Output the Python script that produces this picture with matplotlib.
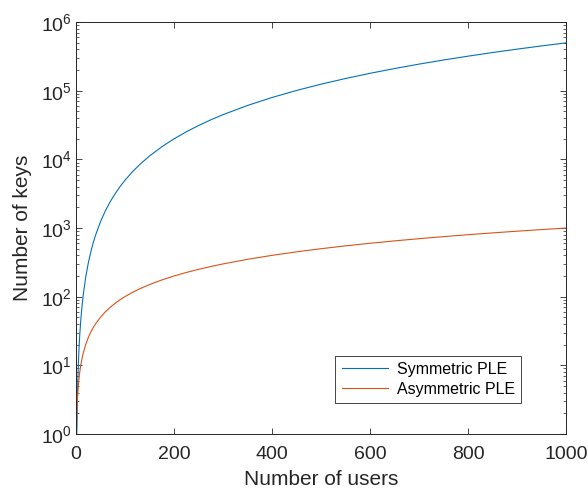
import matplotlib
matplotlib.use("Agg")
import matplotlib.pyplot as plt
from matplotlib.ticker import LogLocator, FixedLocator

plt.rcParams['font.family'] = ['Liberation Sans', 'DejaVu Sans']
plt.rcParams['mathtext.fontset'] = 'custom'
plt.rcParams['mathtext.rm'] = 'Liberation Sans'
plt.rcParams['mathtext.it'] = 'Liberation Sans:italic'

users = [1, 2, 3, 4, 5, 6, 7, 8, 10, 12, 15, 20, 25, 30, 35, 40, 50, 60, 70, 80, 90, 100,
         115, 130, 150, 175, 200, 225, 250, 275, 300, 350, 400, 450, 500, 550, 600,
         650, 700, 750, 800, 850, 900, 950, 1000]
symmetric_keys = [0.9, 1, 3, 6, 10, 15, 21, 28, 45, 66, 105, 190, 300, 435, 595, 780,
                  1225, 1770, 2415, 3160, 4005, 4950, 6555, 8385, 11175, 15225, 19900,
                  25200, 31125, 37675, 44850, 61075, 79800, 101025, 124750, 150975,
                  179700, 210925, 244650, 280875, 319600, 360825, 404550, 450775, 499500]
asymmetric_keys = [1, 2, 3, 4, 5, 6, 7, 8, 10, 12, 15, 20, 25, 30, 35, 40, 50, 60, 70, 80,
                   90, 100, 115, 130, 150, 175, 200, 225, 250, 275, 300, 350, 400, 450,
                   500, 550, 600, 650, 700, 750, 800, 850, 900, 950, 1000]
series_labels = ['Symmetric PLE', 'Asymmetric PLE']
x_ticks = [0, 200, 400, 600, 800, 1000]
y_ticks = [1e0, 1e1, 1e2, 1e3, 1e4, 1e5, 1e6]
y_tick_labels = [r'$10^{%d}$' % i for i in range(7)]

fig = plt.figure(figsize=(5.88, 4.92), dpi=100)
ax = fig.add_axes([0.129, 0.118, 0.834, 0.837])

ax.plot(users, symmetric_keys, color='#0072BD', lw=0.8, label=series_labels[0])
ax.plot(users, asymmetric_keys, color='#D95319', lw=0.8, label=series_labels[1])

ax.set_yscale('log')
ax.set_xlim(0, 1000)
ax.set_ylim(1, 1e6)
ax.set_xticks(x_ticks)
ax.set_xticklabels([str(t) for t in x_ticks])
ax.set_yticks(y_ticks)
ax.set_yticklabels(y_tick_labels)
ax.yaxis.set_minor_locator(LogLocator(base=10, subs=range(2, 10), numticks=20))
ax.xaxis.set_minor_locator(FixedLocator([]))

ax.tick_params(which='both', direction='in', top=True, right=True, colors='#262626',
               labelcolor='#262626', labelsize=14)
ax.tick_params(which='major', length=4, width=0.6)
ax.tick_params(which='minor', length=2, width=0.5)
ax.tick_params(axis='x', pad=9)
ax.tick_params(axis='y', pad=3)
for s in ax.spines.values():
    s.set_color('#262626')
    s.set_linewidth(0.7)

ax.set_xlabel('Number of users', fontsize=15, color='#262626', labelpad=5)
ax.set_ylabel('Number of keys', fontsize=15, color='#262626', labelpad=6)

leg = ax.legend(loc='upper left', bbox_to_anchor=(0.529, 0.19), fontsize=11.5,
                frameon=True, fancybox=False, edgecolor='#262626', framealpha=1,
                handlelength=2.9, handletextpad=0.55, borderpad=0.4, labelspacing=0.3,
                borderaxespad=0)
leg.get_frame().set_linewidth(0.6)

fig.savefig('out.png', dpi=100)
